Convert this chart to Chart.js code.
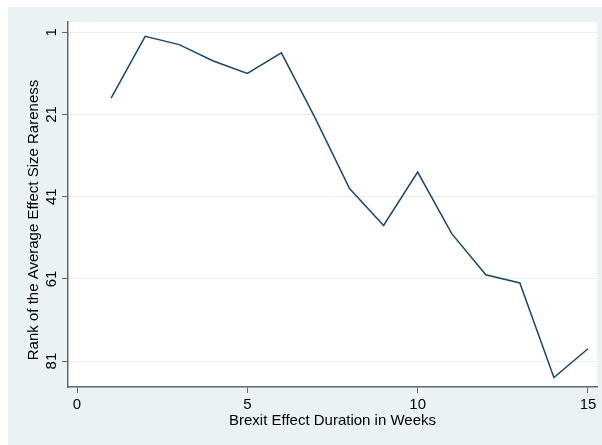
<!DOCTYPE html>
<html>
<head>
<meta charset="utf-8">
<script src="https://cdn.jsdelivr.net/npm/chart.js@4"></script>
<style>
  html, body { margin: 0; padding: 0; background: #fff; }
  canvas { display: block; }
</style>
</head>
<body>
<canvas id="rankChart" width="602" height="445"></canvas>
<script>
// weekly rank of the average effect size rareness
var weeks = [1, 2, 3, 4, 5, 6, 7, 8, 9, 10, 11, 12, 13, 14, 15];
var rankValues = [17, 2, 4, 8, 11, 6, 22, 39, 48, 35, 50, 60, 62, 85, 78];
var xTickValues = [0, 5, 10, 15];
var yTickValues = [1, 21, 41, 61, 81];
var xTitle = 'Brexit Effect Duration in Weeks';
var yTitle = 'Rank of the Average Effect Size Rareness';

Chart.defaults.font.family = '"Liberation Sans", Arial, sans-serif';
Chart.defaults.font.size = 15;
Chart.defaults.color = '#000';

// region fills + rotated y title
var backgrounds = {
    id: 'backgrounds',
    beforeDraw: function (chart) {
        var ctx = chart.ctx;
        var a = chart.chartArea;
        ctx.save();
        ctx.fillStyle = '#ffffff';
        ctx.fillRect(0, 0, chart.width, chart.height);
        ctx.fillStyle = '#eaf2f3';
        ctx.fillRect(8, 7, chart.width - 8, chart.height - 7);
        ctx.fillStyle = '#ffffff';
        ctx.fillRect(a.left, a.top, a.right - a.left, a.bottom - a.top);
        ctx.restore();
    },
    afterDraw: function (chart) {
        var ctx = chart.ctx;
        ctx.save();
        ctx.translate(34, 220);
        ctx.rotate(-Math.PI / 2);
        ctx.font = '15px "Liberation Sans", Arial, sans-serif';
        ctx.fillStyle = '#000';
        ctx.textAlign = 'center';
        ctx.textBaseline = 'middle';
        ctx.fillText(yTitle, 0, 0);
        ctx.restore();
    }
};

var ctx1 = document.getElementById('rankChart').getContext('2d');
var rankChart = new Chart(ctx1, {
    type: 'line',
    data: {
        datasets: [{
            data: weeks.map(function (w, i) { return { x: w, y: rankValues[i] }; }),
            borderColor: '#1a476f',
            borderWidth: 1.5,
            pointRadius: 0,
            tension: 0,
            fill: false
        }]
    },
    options: {
        responsive: false,
        animation: false,
        devicePixelRatio: 1,
        layout: { padding: { left: 0, top: 22, right: 5, bottom: 0 } },
        plugins: {
            legend: { display: false },
            tooltip: { enabled: false }
        },
        scales: {
            x: {
                type: 'linear',
                min: -0.265,
                max: 15.265,
                afterBuildTicks: function (scale) {
                    scale.ticks = xTickValues.map(function (v) { return { value: v }; });
                },
                afterFit: function (scale) { scale.height = 58; },
                ticks: { padding: 3, maxRotation: 0, autoSkip: false },
                grid: {
                    drawOnChartArea: false,
                    drawTicks: true,
                    tickLength: 6,
                    tickColor: '#666'
                },
                border: { display: true, color: '#666', width: 1.5 },
                title: {
                    display: true,
                    text: xTitle,
                    padding: { top: 0, bottom: 15 }
                }
            },
            y: {
                type: 'linear',
                reverse: true,
                min: -1.5,
                max: 87.3,
                afterBuildTicks: function (scale) {
                    scale.ticks = yTickValues.map(function (v) { return { value: v }; });
                },
                afterFit: function (scale) { scale.width = 68; },
                ticks: { padding: 2, minRotation: 90, maxRotation: 90, crossAlign: 'center', autoSkip: false },
                grid: {
                    color: '#e6eef1',
                    lineWidth: 1,
                    drawTicks: true,
                    tickLength: 6,
                    tickColor: '#666'
                },
                border: { display: true, color: '#666', width: 1.5 }
            }
        }
    },
    plugins: [backgrounds]
});
</script>
</body>
</html>
